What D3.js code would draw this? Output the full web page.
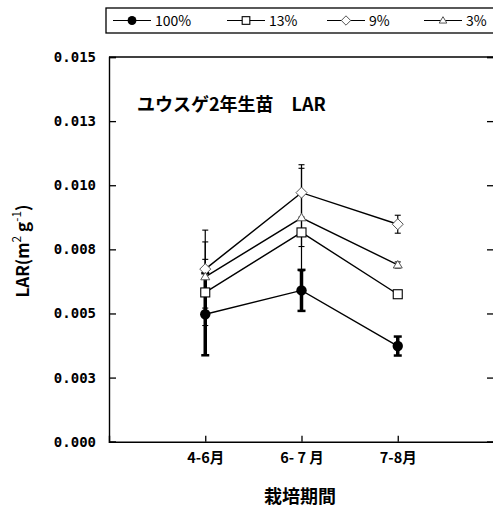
<!DOCTYPE html>
<html>
<head>
<meta charset="utf-8">
<script src="https://cdn.jsdelivr.net/npm/d3@7"></script>
<style>
  html, body { margin: 0; padding: 0; background: #fff; }
  svg { display: block; }
</style>
</head>
<body>
<svg id="chart" width="493" height="508"></svg>
<script>
// Periods on the x axis
const periods = ["4-6月", "6- 7 月", "7-8月"];

// Series names (relative light level)
const seriesNames = ["100%", "13%", "9%", "3%"];

// LAR means per period (m² g⁻¹)
const lar100 = [0.00497, 0.00590, 0.00373];
const lar13  = [0.00582, 0.00816, 0.00575];
const lar9   = [0.00673, 0.00971, 0.00848];
const lar3   = [0.00643, 0.00873, 0.00689];

// Standard errors per period
const err100 = [0.00160, 0.00080, 0.00037];
const err13  = [0.00129, 0.00055, 0.00012];
const err9   = [0.00152, 0.00095, 0.00035];
const err3   = [0.00136, 0.00207, 0.00012];

// Y tick values and their printed labels
const yTicks = [0, 0.0025, 0.005, 0.0075, 0.01, 0.0125, 0.015];
const yTickLabels = ["0.000", "0.003", "0.005", "0.008", "0.010", "0.013", "0.015"];

const titleText = "ユウスゲ2年生苗　LAR";
const xTitle = "栽培期間";

const series = [
  { name: seriesNames[0], values: lar100, errs: err100, shape: "circle",   thick: true },
  { name: seriesNames[1], values: lar13,  errs: err13,  shape: "square",   thick: false },
  { name: seriesNames[2], values: lar9,   errs: err9,   shape: "diamond",  thick: false },
  { name: seriesNames[3], values: lar3,   errs: err3,   shape: "triangle", thick: false }
];

const svg = d3.select("#chart");
const plotLeft = 109, plotRight = 494, plotTop = 57, plotBottom = 441.7;

const x = d3.scaleLinear().domain([0, 4]).range([plotLeft, plotRight]);
const y = d3.scaleLinear().domain([0, 0.015]).range([plotBottom, plotTop]);

const jpFont = "'Noto Sans CJK JP', 'Noto Sans', sans-serif";
const monoFont = "'DejaVu Sans Mono', 'Liberation Mono', monospace";

// Frame: left axis with inward ticks
svg.append("g")
  .attr("transform", `translate(${plotLeft},0)`)
  .call(d3.axisLeft(y).tickValues(yTicks).tickSize(-7).tickFormat((d, i) => yTickLabels[i]).tickPadding(13))
  .call(g => g.select(".domain").attr("stroke-width", 1.4))
  .call(g => g.selectAll(".tick line").attr("stroke-width", 1.3))
  .call(g => g.selectAll(".tick text")
    .attr("font-family", monoFont).attr("font-weight", "bold").attr("font-size", 14).attr("fill", "#000"));

// Right side ticks pointing inward
svg.append("g")
  .attr("transform", `translate(${plotRight},0)`)
  .call(d3.axisRight(y).tickValues(yTicks).tickSize(-7).tickFormat(""))
  .call(g => g.select(".domain").attr("stroke-width", 1.4))
  .call(g => g.selectAll(".tick line").attr("stroke-width", 1.3));

// Top border
svg.append("line")
  .attr("x1", plotLeft).attr("x2", plotRight).attr("y1", plotTop).attr("y2", plotTop)
  .attr("stroke", "#000").attr("stroke-width", 1.4);

// Bottom axis with inward ticks at each period
svg.append("g")
  .attr("transform", `translate(0,${plotBottom})`)
  .call(d3.axisBottom(x).tickValues([1, 2, 3]).tickSize(-6).tickFormat((d) => periods[d - 1]).tickPadding(13))
  .call(g => g.select(".domain").attr("stroke-width", 1.4))
  .call(g => g.selectAll(".tick line").attr("stroke-width", 1.3))
  .call(g => g.selectAll(".tick text")
    .attr("font-family", jpFont).attr("font-weight", "bold").attr("font-size", 14.5).attr("fill", "#000")
    .attr("dy", "0.6em"));

// Chart title inside the plot
svg.append("text")
  .attr("x", 137).attr("y", 111)
  .attr("font-family", jpFont).attr("font-weight", "bold").attr("font-size", 18)
  .text(titleText);

// Axis titles
svg.append("text")
  .attr("x", 300).attr("y", 503)
  .attr("text-anchor", "middle")
  .attr("font-family", jpFont).attr("font-weight", "bold").attr("font-size", 18)
  .text(xTitle);

const yLab = svg.append("text")
  .attr("transform", "translate(29,251) rotate(-90)")
  .attr("text-anchor", "middle")
  .attr("font-family", jpFont).attr("font-weight", "bold").attr("font-size", 17);
yLab.append("tspan").text("LAR(m");
yLab.append("tspan").attr("font-size", 12).attr("font-weight", "normal").attr("dy", -8).text("2");
yLab.append("tspan").attr("dy", 8).text(" g");
yLab.append("tspan").attr("font-size", 12).attr("font-weight", "normal").attr("dy", -8).text("-1");
yLab.append("tspan").attr("dy", 8).text(")");

// Marker drawing helper
function drawMarker(g, shape, cx, cy, k = 1) {
  if (shape === "circle") {
    g.append("circle").attr("cx", cx).attr("cy", cy).attr("r", 5.2 * k).attr("fill", "#000");
  } else if (shape === "square") {
    const h = 4.5 * k;
    g.append("rect").attr("x", cx - h).attr("y", cy - h).attr("width", 2 * h).attr("height", 2 * h)
      .attr("fill", "#fff").attr("stroke", "#000").attr("stroke-width", 1.1);
  } else if (shape === "diamond") {
    const h = 5.5 * k;
    g.append("path").attr("d", `M${cx},${cy - h}L${cx + h},${cy}L${cx},${cy + h}L${cx - h},${cy}Z`)
      .attr("fill", "#fff").attr("stroke", "#555").attr("stroke-width", 1);
  } else {
    const h = 4.5 * k;
    g.append("path").attr("d", `M${cx},${cy - h}L${cx + h},${cy + 3 * k}L${cx - h},${cy + 3 * k}Z`)
      .attr("fill", "#fff").attr("stroke", "#555").attr("stroke-width", 1);
  }
}

const plot = svg.append("g");

// Error bars
series.forEach(s => {
  s.values.forEach((v, i) => {
    const cx = x(i + 1), y0 = y(v - s.errs[i]), y1 = y(v + s.errs[i]);
    const w = s.thick ? 3.5 : 1.2, cap = s.thick ? 4 : 3;
    plot.append("line").attr("x1", cx).attr("x2", cx).attr("y1", y0).attr("y2", y1)
      .attr("stroke", "#000").attr("stroke-width", w);
    [y0, y1].forEach(yy => plot.append("line")
      .attr("x1", cx - cap).attr("x2", cx + cap).attr("y1", yy).attr("y2", yy)
      .attr("stroke", "#000").attr("stroke-width", s.thick ? 2.5 : 1.1));
  });
});

// Connecting lines
const line = d3.line().x((d, i) => x(i + 1)).y(d => y(d));
series.forEach(s => {
  plot.append("path").attr("d", line(s.values))
    .attr("fill", "none").attr("stroke", "#000").attr("stroke-width", 1.4);
});

// Markers
series.forEach(s => {
  s.values.forEach((v, i) => drawMarker(plot, s.shape, x(i + 1), y(v)));
});

// Legend box across the top
const legend = svg.append("g");
legend.append("rect").attr("x", 106).attr("y", 8).attr("width", 400).attr("height", 25)
  .attr("fill", "#fff").attr("stroke", "#000").attr("stroke-width", 1.3);
const legendX = [132, 246, 346, 443];
series.forEach((s, i) => {
  const cx = legendX[i], cy = 20.5;
  legend.append("line").attr("x1", cx - 19).attr("x2", cx + 19).attr("y1", cy).attr("y2", cy)
    .attr("stroke", "#000").attr("stroke-width", 1.2);
  drawMarker(legend, s.shape, cx, cy, 0.85);
  legend.append("text").attr("x", cx + 23).attr("y", cy + 5)
    .attr("font-family", jpFont).attr("font-size", 14).text(s.name);
});
</script>
</body>
</html>
